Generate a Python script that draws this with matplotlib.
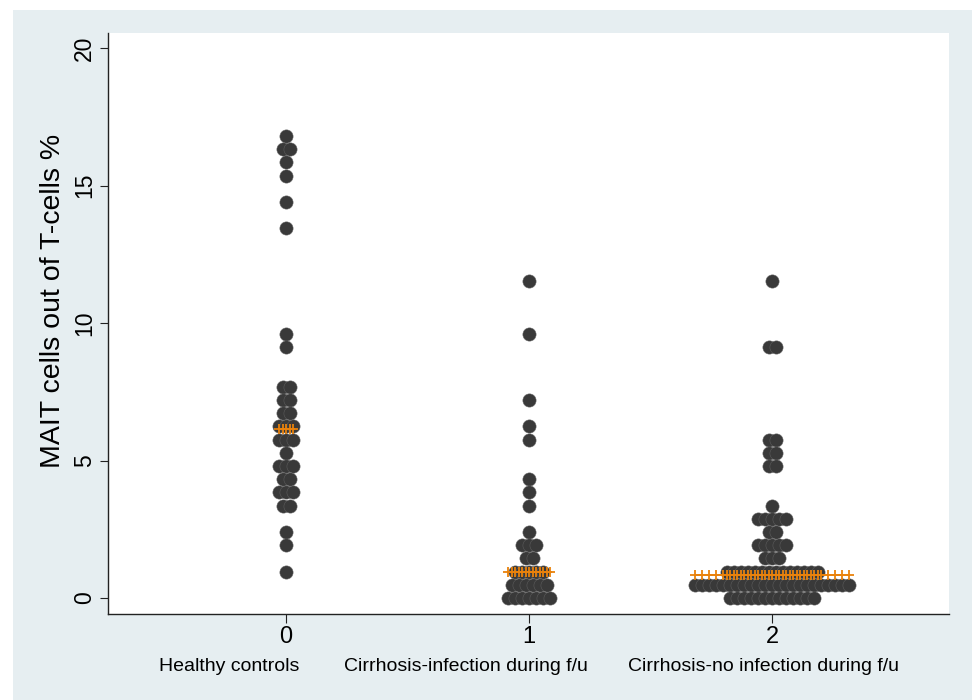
import matplotlib
matplotlib.use('Agg')
import matplotlib.pyplot as plt
from matplotlib.patches import Rectangle
import numpy as np

plt.rcParams['font.family'] = ['Liberation Sans', 'DejaVu Sans']

# ---- data ----
group_positions = [0, 1, 2]
x_tick_labels = ['0', '1', '2']
category_labels = ['Healthy controls',
                   'Cirrhosis-infection during f/u',
                   'Cirrhosis-no infection during f/u']
y_ticks = [0, 5, 10, 15, 20]

# dot-plot rows: bin value and number of dots in that bin
g0_values = [16.8, 16.32, 15.84, 15.36, 14.4, 13.44, 9.6, 9.12, 7.68, 7.2, 6.72,
             6.24, 5.76, 5.28, 4.8, 4.32, 3.84, 3.36, 2.4, 1.92, 0.96]
g0_counts = [1, 2, 1, 1, 1, 1, 1, 1, 2, 2, 2, 3, 3, 1, 3, 2, 3, 2, 1, 1, 1]

g1_values = [11.52, 9.6, 7.2, 6.24, 5.76, 4.32, 3.84, 3.36, 2.4, 1.92, 1.44,
             0.96, 0.48, 0.0]
g1_counts = [1, 1, 1, 1, 1, 1, 1, 1, 1, 3, 2, 5, 6, 7]

g2_values = [11.52, 9.12, 5.76, 5.28, 4.8, 3.36, 2.88, 2.4, 1.92, 1.44, 0.96,
             0.48, 0.0]
g2_counts = [1, 2, 2, 2, 2, 1, 5, 2, 5, 3, 14, 23, 13]

medians = [6.15, 0.94, 0.82]

# ---- style ----
dot_color = '#393939'
median_color = '#e9820c'
panel_color = '#e6eef1'
step = 7.0 / 243.0   # horizontal spacing between stacked dots (data units)
label_x = [0.1439, 0.4257, 0.7794]   # category label centres (axes fraction)

fig = plt.figure(figsize=(9.72, 7.0), dpi=100)
fig.patches.append(Rectangle((13 / 972, 0), (972 - 13) / 972, (700 - 10) / 700,
                             transform=fig.transFigure, facecolor=panel_color,
                             edgecolor='none', zorder=-10))

ax = fig.add_axes([0.1111, 0.1229, 0.8652, 0.83])
ax.set_facecolor('white')

groups = [(g0_values, g0_counts), (g1_values, g1_counts), (g2_values, g2_counts)]
for pos, (vals, cnts), med in zip(group_positions, groups, medians):
    xs, ys = [], []
    for v, c in zip(vals, cnts):
        offs = (np.arange(c) - (c - 1) / 2.0) * step
        xs.extend(pos + offs)
        ys.extend([v] * c)
    ax.plot(xs, ys, 'o', ms=9.5, mfc=dot_color, mec='#5c5c5c', mew=0.4,
            linestyle='none', zorder=3)
    ux = np.unique(np.round(np.array(xs), 6))
    ax.plot(ux, [med] * len(ux), '-', color=median_color, lw=1.4,
            marker='+', ms=6.5, mew=1.3, zorder=4)

ax.set_xlim(-0.7325, 2.728)
ax.set_ylim(-0.58, 20.55)

for s in ['top', 'right']:
    ax.spines[s].set_visible(False)
for s in ['left', 'bottom']:
    ax.spines[s].set_color('#222222')
    ax.spines[s].set_linewidth(1.0)

ax.set_xticks(group_positions)
ax.set_xticklabels(x_tick_labels, fontsize=17)
ax.set_yticks(y_ticks)
ax.set_yticklabels([str(t) for t in y_ticks], fontsize=16.5, rotation=90, va='center')
ax.tick_params(axis='x', length=6.5, width=0.8, pad=2, color='#222222')
ax.tick_params(axis='y', length=5.8, width=0.8, pad=3, color='#222222')

for lx, lab in zip(label_x, category_labels):
    ax.text(lx, 0, lab, transform=ax.transAxes, ha='center', va='center',
            fontsize=14)
# shift category labels below the tick labels
for t in ax.texts:
    t.set_y(-(667 - 614) / 581.0)

ax.set_ylabel('MAIT cells out of T-cells %', fontsize=20.5, va='center')
ax.yaxis.set_label_coords(-0.0654, 0.539)

fig.savefig('out.png', dpi=100, facecolor='white')
